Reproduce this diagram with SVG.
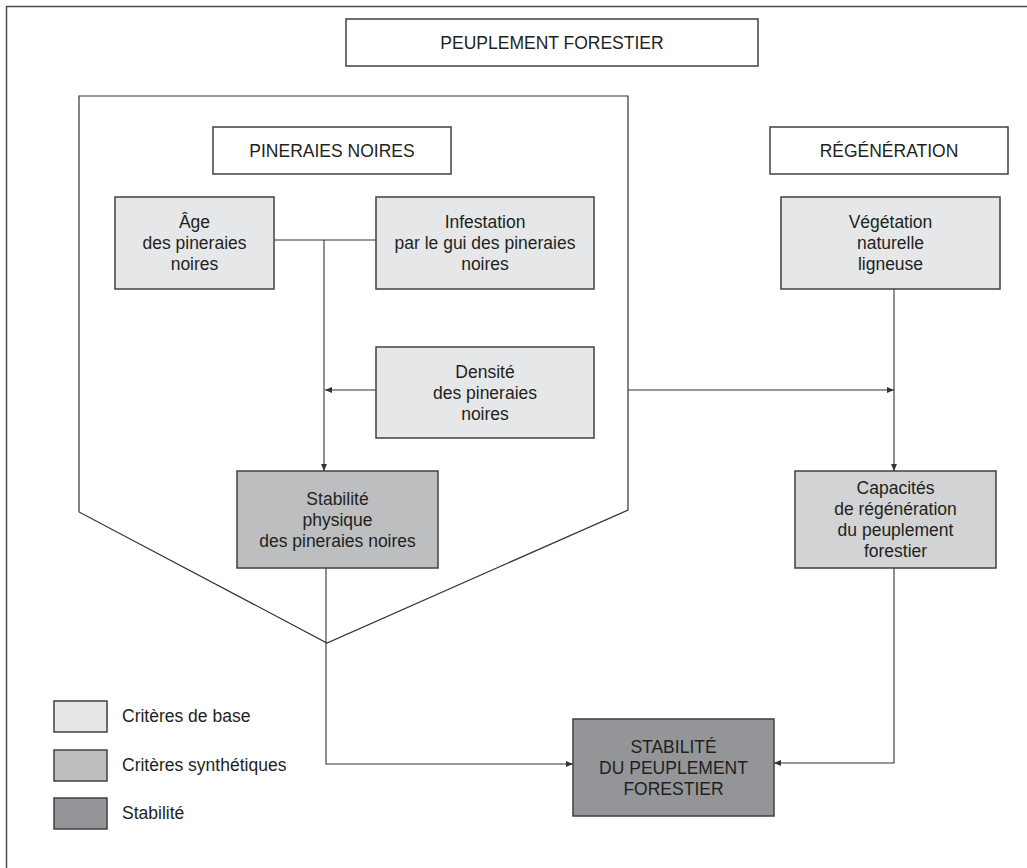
<svg xmlns="http://www.w3.org/2000/svg" width="1027" height="868" viewBox="0 0 1027 868">
<defs>
<style>
.box{stroke:#414042;stroke-width:1.5}
.w{fill:#ffffff}
.b{fill:#e6e7e8}
.s{fill:#bcbec0}
.s2{fill:#d1d3d4}
.st{fill:#939598}
.t{font-family:"Liberation Sans",Arial,sans-serif;font-size:17.5px;fill:#231f20;text-anchor:middle}
.lt{font-family:"Liberation Sans",Arial,sans-serif;font-size:17.5px;fill:#231f20}
.c{fill:none;stroke:#333333;stroke-width:1.1}
</style>
<marker id="ah" markerWidth="7" markerHeight="6" refX="7" refY="3" orient="auto" markerUnits="userSpaceOnUse">
<path d="M0,0 L7,3 L0,6 Z" fill="#333333"/>
</marker>
</defs>
<rect width="1027" height="868" fill="#ffffff"/>
<path d="M6.5,868 V6.5 H1027" fill="none" stroke="#4d4d4f" stroke-width="1.5"/>
<path id="enclosure" d="M79,96 H628 V510 L327,643 L79,512 Z" fill="none" stroke="#333333" stroke-width="1.2"/>

<g id="connectors">
<path class="c" d="M274,240 H376"/>
<path class="c" d="M324,240 V471" marker-end="url(#ah)"/>
<path class="c" d="M376,390 H325" marker-end="url(#ah)"/>
<path class="c" d="M326,568 V764 H573" marker-end="url(#ah)"/>
<path class="c" d="M628,390 H894" marker-end="url(#ah)"/>
<path class="c" d="M894,289 V471" marker-end="url(#ah)"/>
<path class="c" d="M894,568 V763 H774" marker-end="url(#ah)"/>
</g>

<g id="peuplement">
<rect class="box w" x="346" y="19" width="412" height="47"/>
<text class="t" x="552" y="48.5">PEUPLEMENT FORESTIER</text>
</g>
<g id="pineraies">
<rect class="box w" x="213" y="127" width="238" height="47"/>
<text class="t" x="332" y="156.5">PINERAIES NOIRES</text>
</g>
<g id="regeneration">
<rect class="box w" x="770" y="127" width="238" height="47"/>
<text class="t" x="889" y="156.5">RÉGÉNÉRATION</text>
</g>
<g id="age">
<rect class="box b" x="115" y="197" width="159" height="92"/>
<text class="t" x="194.5" y="228">Âge</text>
<text class="t" x="194.5" y="249">des pineraies</text>
<text class="t" x="194.5" y="270">noires</text>
</g>
<g id="infestation">
<rect class="box b" x="376" y="197" width="218" height="92"/>
<text class="t" x="485" y="228">Infestation</text>
<text class="t" x="485" y="249">par le gui des pineraies</text>
<text class="t" x="485" y="270">noires</text>
</g>
<g id="vegetation">
<rect class="box b" x="781" y="197" width="219" height="92"/>
<text class="t" x="890.5" y="228">Végétation</text>
<text class="t" x="890.5" y="249">naturelle</text>
<text class="t" x="890.5" y="270">ligneuse</text>
</g>
<g id="densite">
<rect class="box b" x="376" y="347" width="218" height="91"/>
<text class="t" x="485" y="377.5">Densité</text>
<text class="t" x="485" y="398.5">des pineraies</text>
<text class="t" x="485" y="419.5">noires</text>
</g>
<g id="stabilite-physique">
<rect class="box s" x="237" y="471" width="201" height="97"/>
<text class="t" x="337.5" y="504.5">Stabilité</text>
<text class="t" x="337.5" y="525.5">physique</text>
<text class="t" x="337.5" y="546.5">des pineraies noires</text>
</g>
<g id="capacites">
<rect class="box s2" x="795" y="471" width="201" height="97"/>
<text class="t" x="895.5" y="494">Capacités</text>
<text class="t" x="895.5" y="515">de régénération</text>
<text class="t" x="895.5" y="536">du peuplement</text>
<text class="t" x="895.5" y="557">forestier</text>
</g>
<g id="stabilite-peuplement">
<rect class="box st" x="573" y="719" width="201" height="97"/>
<text class="t" x="673.5" y="752.5">STABILITÉ</text>
<text class="t" x="673.5" y="773.5">DU PEUPLEMENT</text>
<text class="t" x="673.5" y="794.5">FORESTIER</text>
</g>
<g id="legend">
<rect class="box b" x="54" y="701" width="53" height="31"/>
<text class="lt" x="122" y="722">Critères de base</text>
<rect class="box s" x="54" y="750" width="53" height="31"/>
<text class="lt" x="122" y="771">Critères synthétiques</text>
<rect class="box st" x="54" y="798" width="53" height="31"/>
<text class="lt" x="122" y="819">Stabilité</text>
</g>
</svg>
